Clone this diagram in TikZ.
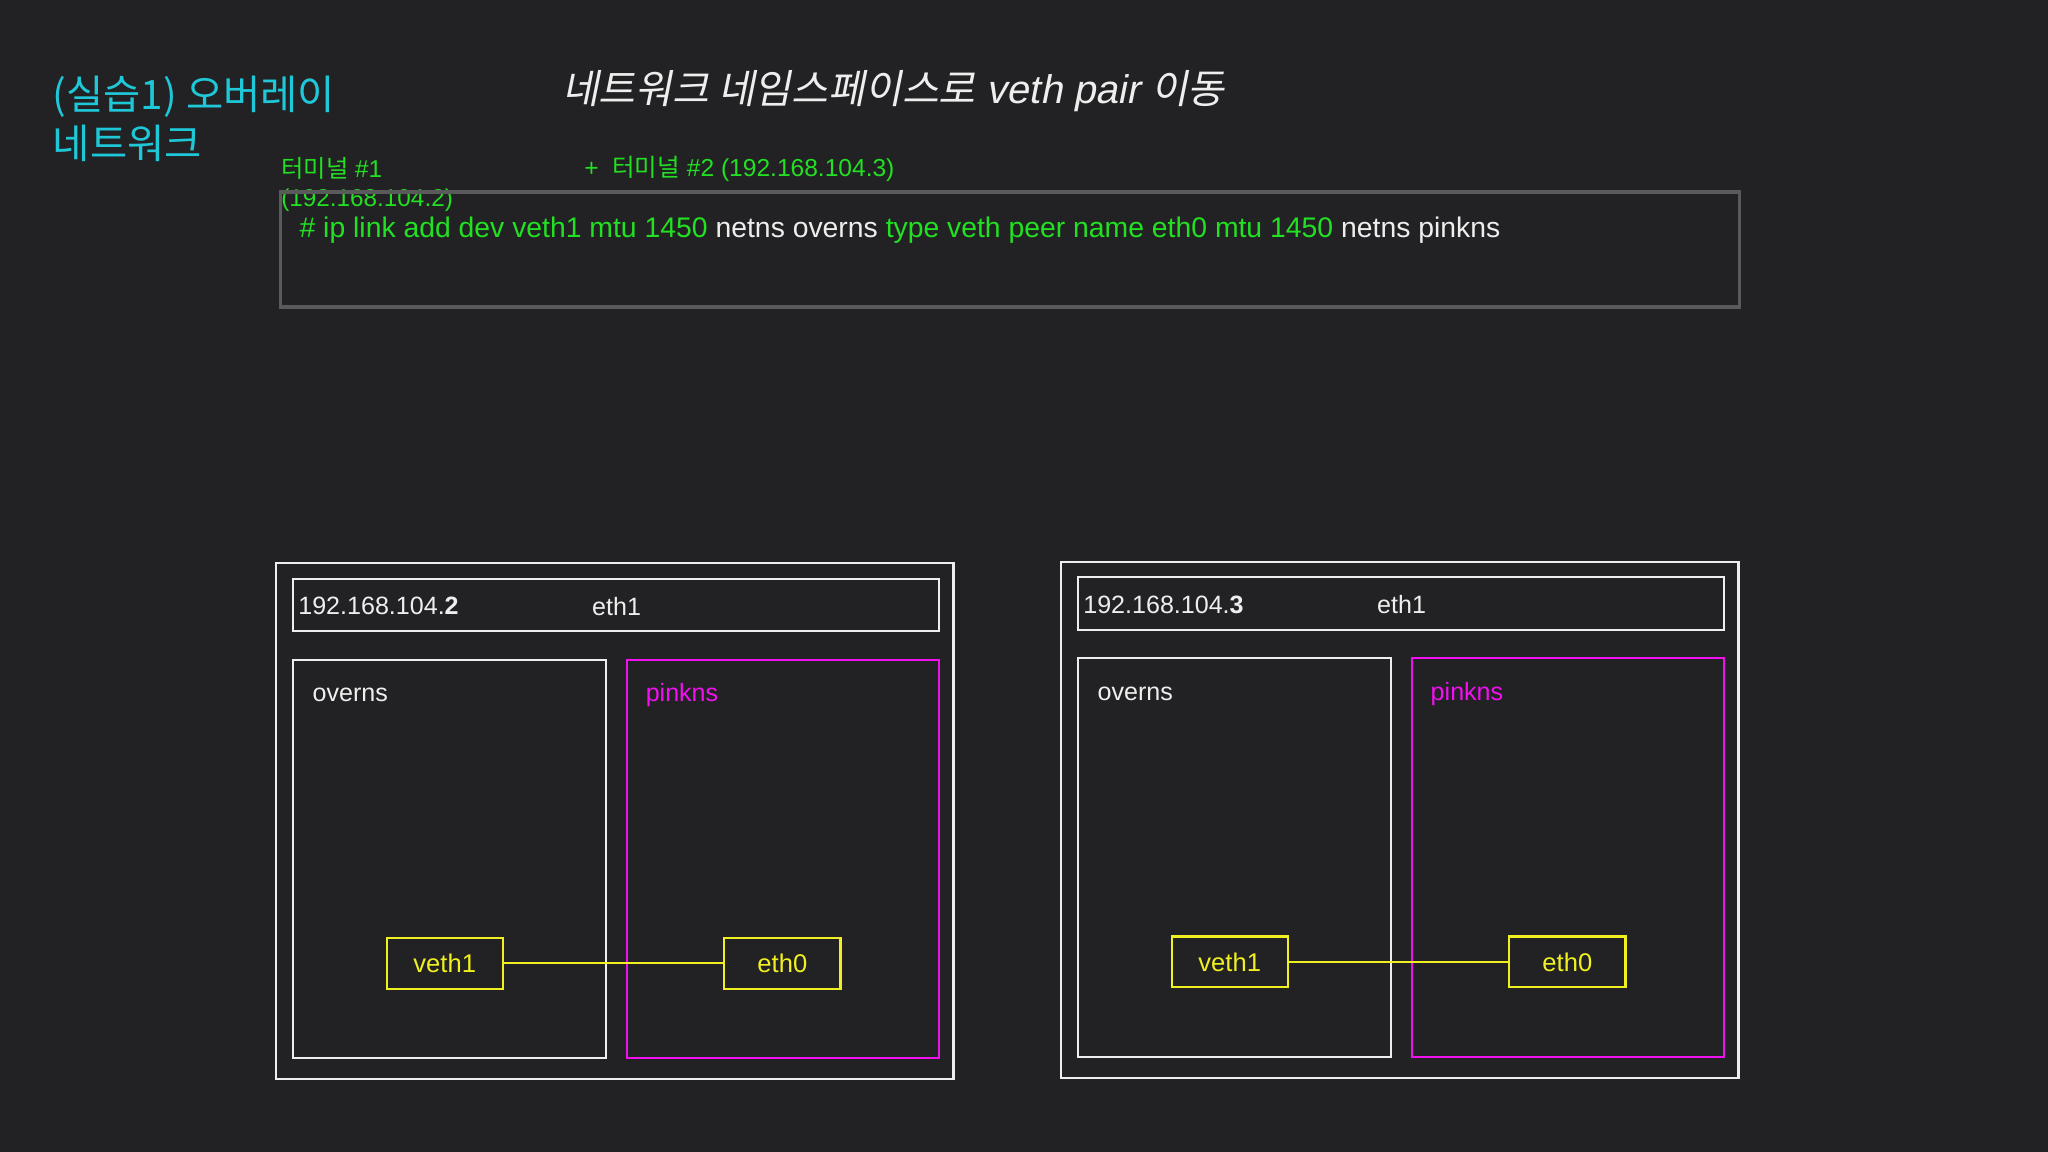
\documentclass[tikz,border=0pt]{standalone}
\usepackage{fontspec}
\setmainfont{Liberation Sans}
\newfontfamily\kr{Noto Sans CJK KR}
\newfontfamily\krit[FakeSlant=0.2]{Noto Sans CJK KR}
\newfontfamily\lit[FakeSlant=0.2]{Liberation Sans}
\definecolor{bg}{HTML}{222224}
\definecolor{cy}{HTML}{1EC8D8}
\definecolor{gr}{HTML}{22E022}
\definecolor{mg}{HTML}{F010F0}
\definecolor{yl}{HTML}{F0F020}
\definecolor{gy}{HTML}{5A5A5C}
\definecolor{wt}{HTML}{EEEEEE}
\begin{document}
\begin{tikzpicture}[x=0.5pt,y=-0.5pt,
  wbox/.style={draw=wt,line width=0.8pt},
  mbox/.style={draw=mg,line width=0.8pt},
  ybox/.style={draw=yl,line width=0.8pt,text=yl,minimum width=44.5pt,minimum height=19.5pt,inner sep=0pt,font=\fontsize{9.8}{12}\selectfont},
  lbl/.style={anchor=west,inner sep=0pt,font=\fontsize{9.6}{12}\selectfont}]
\fill[bg] (0,0) rectangle (1568,882);
\useasboundingbox (0,0) rectangle (1568,882);
\node[anchor=west,inner sep=0pt,text=cy,font=\kr\fontsize{15.5}{18}\selectfont] (t1) at (40,74) {(실습1) 오버레이};
\node[anchor=west,inner sep=0pt,text=cy,font=\kr\fontsize{15.5}{18}\selectfont] (t2) at (40,110) {네트워크};
\node[anchor=west,inner sep=0pt,text=wt,font=\fontsize{15.3}{18}\selectfont] (st) at (430,70) {{\krit 네트워크 네임스페이스로} {\lit veth pair} {\krit 이동}};
\node[anchor=west,inner sep=0pt,text=gr,font=\fontsize{9.3}{11}\selectfont] (term1) at (215,129) {{\kr 터미널} \#1};
\node[anchor=west,inner sep=0pt,text=gr,font=\fontsize{9.3}{11}\selectfont] (ip1) at (215,153) {(192.168.104.2)};
\node[anchor=west,inner sep=0pt,text=gr,font=\fontsize{9.4}{11}\selectfont] (term2) at (447,129) {+ \ {\kr 터미널} \#2 (192.168.104.3)};
\draw[draw=gy,line width=1.2pt] (215,147) rectangle (1332,235);
\node[anchor=west,inner sep=0pt,font=\fontsize{10.85}{13}\selectfont] (cmd) at (229,176) {\textcolor{gr}{\# ip link add dev veth1 mtu 1450} \textcolor{wt}{netns overns} \textcolor{gr}{type veth peer name eth0 mtu 1450} \textcolor{wt}{netns pinkns}};
\foreach \dx/\dy/\n/\s in {0/0/a/2,601/-1/b/3}{
  \begin{scope}[shift={(\dx,\dy)}]
  \draw[wbox] (211,431) rectangle (730,826);
  \draw[wbox] (224,443) rectangle (719,483);
  \node[lbl,text=wt] (ip\n) at (228,464) {192.168.104.\textbf{\s}};
  \node[lbl,text=wt] (eth1\n) at (453,464) {eth1};
  \draw[wbox] (224,505) rectangle (464,810);
  \node[lbl,text=wt] (ov\n) at (239,532) {overns};
  \draw[mbox] (480,505) rectangle (719,810);
  \node[lbl,text=mg] (pk\n) at (494,532) {pinkns};
  \node[ybox] (v\n) at (340.5,737.5) {veth1};
  \node[ybox] (e\n) at (599,737.5) {eth0};
  \draw[yl,line width=0.8pt] (v\n) -- (e\n);
  \end{scope}}
\end{tikzpicture}
\end{document}
